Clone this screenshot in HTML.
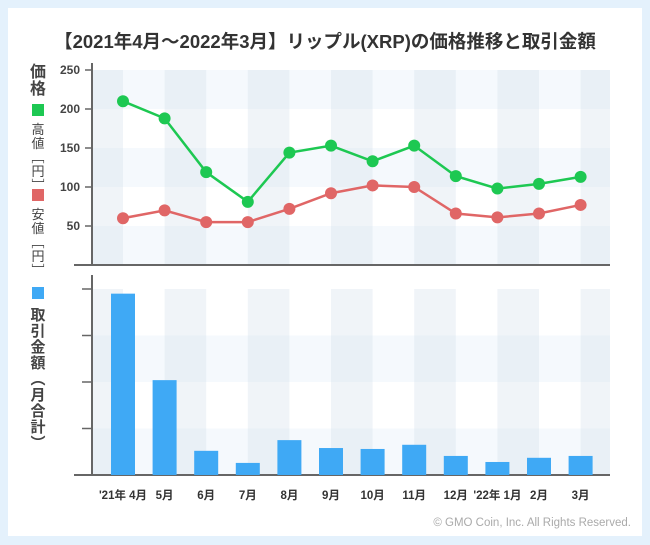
<!DOCTYPE html>
<html><head><meta charset="utf-8"><style>
body{margin:0;background:#e4f1fc;width:650px;height:545px;overflow:hidden;font-family:"Liberation Sans","Noto Sans CJK JP",sans-serif}
#card{position:absolute;left:8px;top:8px;width:634px;height:528px;background:#fff}
svg{position:absolute;left:0;top:0}
</style></head><body>
<div id="card"></div>
<svg id="c" width="650" height="545"></svg>
<script>
const months=["'21年 4月","5月","6月","7月","8月","9月","10月","11月","12月","'22年 1月","2月","3月"];
const highVals=[210,188,119,81,144,153,133,153,114,98,104,113];
const lowVals=[60,70,55,55,72,92,102,100,66,61,66,77];
const volVals=[3.9,2.04,0.52,0.26,0.75,0.58,0.56,0.65,0.41,0.28,0.37,0.41];
const priceTicks=[50,100,150,200,250];
const volTicks=[0,1,2,3,4];
const svg=document.getElementById('c');const NS='http://www.w3.org/2000/svg';
function el(t,a,p){const e=document.createElementNS(NS,t);for(const k in a)e.setAttribute(k,a[k]);(p||svg).appendChild(e);return e;}
const x0=123,dx=41.6,L=92,R=610;
const xs=i=>x0+i*dx;
const yP=v=>265-v*0.78;
const yV=v=>475-v*46.5;
function bg(top,bot,rowTicks,yf){
  for(let i=0;i<rowTicks.length-1;i++){const a=yf(rowTicks[i+1]),b=yf(rowTicks[i]);
    if(i%2==0){const r=el('rect',{x:L,y:a,width:R-L,height:b-a,fill:'#f5f9fd'});}}
  const cols=[[L,xs(0)]];for(let i=1;i<12;i+=2)cols.push([xs(i),Math.min(xs(i+1),R)]);
  cols.forEach(c=>{const r=el('rect',{x:c[0],y:top,width:c[1]-c[0],height:bot-top,fill:'rgba(205,218,232,0.3)'});});
}
bg(70,265,[0,50,100,150,200,250],yP);
bg(289,475,volTicks,yV);
[[63,265],[275,475]].forEach(a=>{
  const l=el('line',{x1:L,y1:a[0],x2:L,y2:a[1],stroke:'#666','stroke-width':2});
  const b=el('line',{x1:74,y1:a[1],x2:R,y2:a[1],stroke:'#666','stroke-width':2});
});
priceTicks.forEach(t=>{const y=yP(t);
  const k=el('line',{x1:85,y1:y,x2:92,y2:y,stroke:'#666','stroke-width':1.5});
  const tx=el('text',{x:80,y:y+4,'text-anchor':'end','font-size':12,'font-weight':'bold',fill:'#444'});tx.textContent=t;});
volTicks.forEach(t=>{if(t==0)return;const y=yV(t);
  const k=el('line',{x1:82,y1:y,x2:92,y2:y,stroke:'#666','stroke-width':1.5});});
volVals.forEach((v,i)=>{const r=el('rect',{x:xs(i)-12,y:yV(v),width:24,height:475-yV(v),fill:'#3fa9f5'});});
[[highVals,'#1dc852','high-price'],[lowVals,'#e06666','low-price']].forEach(s=>{
  const p=el('polyline',{points:s[0].map((v,i)=>xs(i)+','+yP(v)).join(' '),fill:'none',stroke:s[1],'stroke-width':2.5});
  s[0].forEach((v,i)=>{const c=el('circle',{cx:xs(i),cy:yP(v),r:6,fill:s[1]});});
});
months.forEach((m,i)=>{const t=el('text',{x:xs(i),y:499,'text-anchor':'middle','font-size':11.5,'font-weight':'bold',fill:'#333'});t.textContent=m;});
const tt=el('text',{x:325,y:48,'text-anchor':'middle','font-size':18.5,'font-weight':'bold',fill:'#333'});tt.textContent='【2021年4月〜2022年3月】リップル(XRP)の価格推移と取引金額';
const cp=el('text',{x:631,y:526,'text-anchor':'end','font-size':11.5,fill:'#aaa'});cp.textContent='© GMO Coin, Inc. All Rights Reserved.';
function vtext(str,x,y,size,bold,name,step){[...str].forEach((ch,i)=>{const t=el('text',{x:x,y:y+i*step,'text-anchor':'middle','font-size':size,'font-weight':bold?'bold':'normal',fill:'#444'});t.textContent=ch;});}
vtext('価格',38,77,16,true,'price-axis-title',17);
let s=el('rect',{x:32,y:104,width:12,height:12,fill:'#1dc852'});
vtext('高値﹇円﹈',38,134,13,false,'legend-high',14);
s=el('rect',{x:32,y:189,width:12,height:12,fill:'#e06666'});
vtext('安値﹇円﹈',38,219,13,false,'legend-low',14);
s=el('rect',{x:32,y:287,width:12,height:12,fill:'#3fa9f5'});
vtext('取引金額︵月合計︶',38,320,15,true,'legend-volume',16);
</script>
</body></html>
